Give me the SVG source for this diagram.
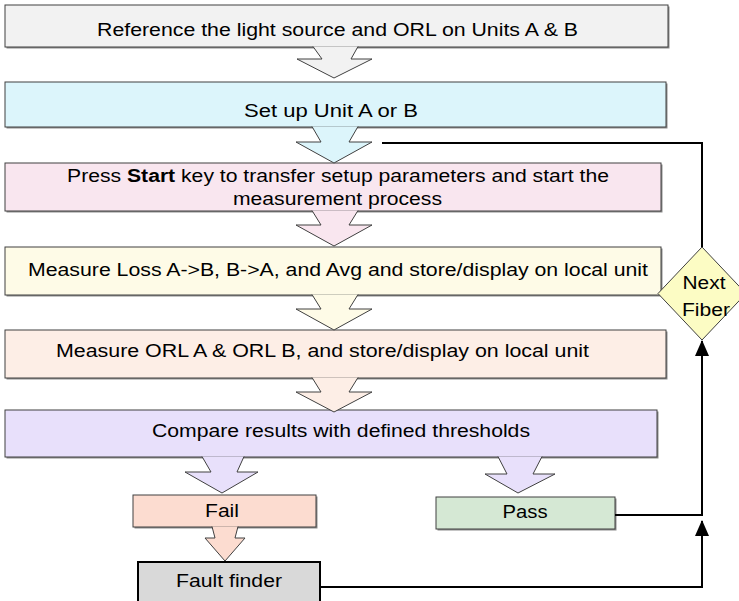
<svg xmlns="http://www.w3.org/2000/svg" width="739" height="601" viewBox="0 0 739 601">
<defs>
<style>
.bx{stroke:#404040;stroke-width:1}
.sh{fill:#8c8c8c}
.t{font-family:"Liberation Sans",Arial,sans-serif;font-size:17.5px;fill:#000}
.c{text-anchor:middle}
.ar{stroke:#404040;stroke-width:1;stroke-linejoin:miter}
.ln{fill:none;stroke:#000;stroke-width:2}
</style>
<marker id="ah" viewBox="0 0 16 14" refX="15" refY="7" markerWidth="16" markerHeight="14" markerUnits="userSpaceOnUse" orient="auto">
<path d="M0,0 L16,7 L0,14 Z" fill="#000"/>
</marker>
</defs>
<rect width="739" height="601" fill="#fff"/>

<g id="n1">
<rect class="sh" x="6.5" y="6.5" width="663" height="42"/>
<rect class="bx" x="5" y="5" width="663" height="42" fill="#f2f2f2"/>
<text class="t c" transform="translate(337.5,36) scale(1.21,1)" textLength="397.5" lengthAdjust="spacingAndGlyphs">Reference the light source and ORL on Units A &amp; B</text>
</g>
<g id="n2">
<rect class="sh" x="6.5" y="83.5" width="661" height="45"/>
<rect class="bx" x="5" y="82" width="661" height="45" fill="#dcf5fb"/>
<text class="t c" transform="translate(331,117) scale(1.21,1)" textLength="143.8" lengthAdjust="spacingAndGlyphs">Set up Unit A or B</text>
</g>
<g id="n3">
<rect class="sh" x="6.5" y="164.5" width="656" height="48"/>
<rect class="bx" x="5" y="163" width="656" height="48" fill="#f9e6ef"/>
<text class="t c" transform="translate(338,182) scale(1.21,1)" textLength="447.9" lengthAdjust="spacingAndGlyphs">Press <tspan font-weight="bold">Start</tspan> key to transfer setup parameters and start the</text>
<text class="t c" transform="translate(337.5,205) scale(1.21,1)" textLength="172.7" lengthAdjust="spacingAndGlyphs">measurement process</text>
</g>
<g id="n4">
<rect class="sh" x="6.5" y="248.5" width="656" height="48"/>
<rect class="bx" x="5" y="247" width="656" height="48" fill="#fefbe7"/>
<text class="t c" transform="translate(338,276) scale(1.21,1)" textLength="512.4" lengthAdjust="spacingAndGlyphs">Measure Loss A-&gt;B, B-&gt;A, and Avg and store/display on local unit</text>
</g>
<g id="n5">
<rect class="sh" x="6.5" y="331.5" width="661" height="48"/>
<rect class="bx" x="5" y="330" width="661" height="48" fill="#fdeee6"/>
<text class="t" transform="translate(56,357) scale(1.21,1)" textLength="440.5" lengthAdjust="spacingAndGlyphs">Measure ORL A &amp; ORL B, and store/display on local unit</text>
</g>
<g id="n6">
<rect class="sh" x="6.5" y="411.5" width="652" height="47"/>
<rect class="bx" x="5" y="410" width="652" height="47" fill="#e8e0fb"/>
<text class="t c" transform="translate(341,437) scale(1.21,1)" textLength="312.4" lengthAdjust="spacingAndGlyphs">Compare results with defined thresholds</text>
</g>
<g id="fail">
<rect class="sh" x="134.5" y="496.5" width="183" height="32"/>
<rect class="bx" x="133" y="495" width="183" height="32" fill="#fcdcd0"/>
<text class="t c" transform="translate(222,517) scale(1.21,1)" textLength="28.1" lengthAdjust="spacingAndGlyphs">Fail</text>
</g>
<g id="pass">
<rect class="sh" x="437.5" y="498.5" width="179" height="32"/>
<rect class="bx" x="436" y="497" width="179" height="32" fill="#d5e8d4"/>
<text class="t c" transform="translate(525,518) scale(1.21,1)" textLength="37.2" lengthAdjust="spacingAndGlyphs">Pass</text>
</g>
<g id="fault">
<rect x="138" y="562" width="182" height="46" fill="#d9d9d9" stroke="#000" stroke-width="2"/>
<text class="t c" transform="translate(229,587) scale(1.21,1)" textLength="87.6" lengthAdjust="spacingAndGlyphs">Fault finder</text>
</g>
<g id="next">
<path d="M702,247 L746,293.5 L702,340 L658,293.5 Z" fill="#fcfcc4" stroke="#404040" stroke-width="1"/>
<text class="t c" transform="translate(704,289) scale(1.21,1)" textLength="35.5" lengthAdjust="spacingAndGlyphs" font-size="18">Next</text>
<text class="t c" transform="translate(706,316) scale(1.21,1)" textLength="39.7" lengthAdjust="spacingAndGlyphs" font-size="18">Fiber</text>
</g>

<g id="connectors">
<path class="ar" fill="#f2f2f2" d="M313,46.5 L322,59 L297,59 L334,78 L372,59 L351,59 L358,46.5"/>
<path class="ar" fill="#dcf5fb" d="M312,126.5 L321,142 L296,142 L334,163 L372,142 L349,142 L358,126.5"/>
<path class="ar" fill="#f9e6ef" d="M312,210.5 L321,225 L296,225 L334,246 L372,225 L349,225 L358,210.5"/>
<path class="ar" fill="#fefbe7" d="M312,294.5 L321,309 L296,309 L334,330 L372,309 L349,309 L358,294.5"/>
<path class="ar" fill="#fdeee6" d="M312,377.5 L321,392 L296,392 L334,412 L372,392 L349,392 L358,377.5"/>
<path class="ar" fill="#e8e0fb" d="M202,456.5 L211,472 L185,472 L222,493 L258,472 L237,472 L244,456.5"/>
<path class="ar" fill="#e8e0fb" d="M498,456.5 L507,474 L485,474 L518,493 L555,474 L533,474 L542,456.5"/>
<path class="ar" fill="#fcdcd0" d="M212,526.5 L215,538 L205,538 L225,561 L245,538 L235,538 L238,526.5"/>
<path class="ln" d="M615,515 H702 V341" marker-end="url(#ah)"/>
<path class="ln" d="M320,587 H702 V521" marker-end="url(#ah)"/>
<path class="ln" d="M702,247 V143 H382"/>
</g>
</svg>
